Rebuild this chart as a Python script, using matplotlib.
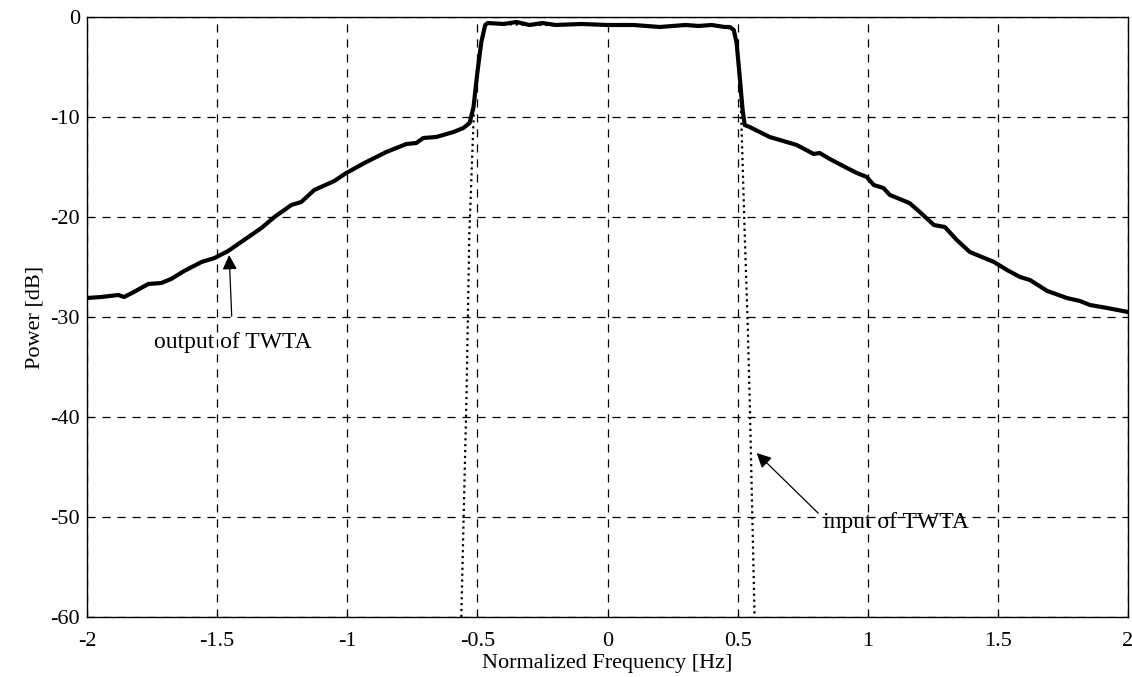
import matplotlib
matplotlib.use("Agg")
import matplotlib.pyplot as plt

# spectrum at the output of the TWTA (solid line)
out_freq = [-2.0, -1.946, -1.88, -1.858, -1.82, -1.765, -1.715, -1.677, -1.627,
            -1.56, -1.51, -1.458, -1.408, -1.33, -1.28, -1.215, -1.177, -1.127,
            -1.05, -1.004, -0.927, -0.85, -0.773, -0.735, -0.708, -0.658, -0.592,
            -0.554, -0.53, -0.515, -0.5, -0.485, -0.47, -0.46, -0.4, -0.35, -0.3,
            -0.25, -0.2, -0.1, 0.0, 0.1, 0.15, 0.2, 0.3, 0.35, 0.4, 0.45, 0.47,
            0.485, 0.496, 0.508, 0.519, 0.527, 0.546, 0.623, 0.688, 0.727, 0.792,
            0.815, 0.854, 0.92, 0.958, 0.996, 1.023, 1.06, 1.085, 1.16, 1.2, 1.254,
            1.296, 1.342, 1.392, 1.485, 1.535, 1.585, 1.623, 1.69, 1.765, 1.815,
            1.854, 1.92, 2.0]
out_power = [-28.1, -28.0, -27.8, -28.0, -27.5, -26.7, -26.6, -26.2, -25.4,
             -24.5, -24.1, -23.4, -22.5, -21.1, -20.0, -18.8, -18.5, -17.3,
             -16.4, -15.6, -14.5, -13.5, -12.7, -12.6, -12.1, -12.0, -11.5,
             -11.1, -10.6, -9.0, -5.5, -2.5, -0.8, -0.6, -0.7, -0.5, -0.8,
             -0.6, -0.8, -0.7, -0.8, -0.8, -0.9, -1.0, -0.8, -0.9, -0.8, -1.0, -1.0,
             -1.3, -2.6, -6.0, -9.3, -10.8, -11.0, -12.0, -12.5, -12.8, -13.7,
             -13.6, -14.2, -15.1, -15.6, -16.0, -16.8, -17.1, -17.8, -18.6, -19.5, -20.8,
             -21.0, -22.3, -23.5, -24.5, -25.3, -26.0, -26.3, -27.4, -28.1, -28.4,
             -28.8, -29.1, -29.5]

# spectrum at the input of the TWTA (dotted line)
in_freq = [-0.562, -0.542, -0.531, -0.512, -0.5, -0.485, -0.47, -0.46, -0.4,
           -0.3, -0.2, -0.1, 0.0, 0.1, 0.2, 0.3, 0.4, 0.45, 0.485, 0.496,
           0.508, 0.515, 0.527, 0.538, 0.546, 0.565]
in_power = [-60.0, -38.0, -21.6, -8.3, -5.5, -2.5, -0.8, -0.6, -0.7,
            -0.8, -0.8, -0.7, -0.8, -0.8, -1.0, -0.8, -0.8, -1.0, -1.3, -2.6,
            -6.0, -11.1, -21.6, -30.3, -38.0, -60.0]

x_ticks = [-2, -1.5, -1, -0.5, 0, 0.5, 1, 1.5, 2]
x_tick_labels = ['-2', '-1.5', '-1', '-0.5', '0', '0.5', '1', '1.5', '2']
y_ticks = [-60, -50, -40, -30, -20, -10, 0]

plt.rcParams['font.family'] = ['Liberation Serif', 'DejaVu Serif']
plt.rcParams['axes.unicode_minus'] = False

fig = plt.figure(figsize=(11.32, 6.77), dpi=100)
ax = fig.add_axes([0.0769, 0.0886, 0.9196, 0.8863])

ax.plot(in_freq, in_power, color='black', linestyle=':', linewidth=1.6)
ax.plot(out_freq, out_power, color='black', linewidth=3.0)

ax.set_xlim(-2, 2)
ax.set_ylim(-60, 0)
ax.set_xticks(x_ticks)
ax.set_xticklabels(x_tick_labels)
ax.set_yticks(y_ticks)
ax.grid(True, color='black', linestyle=(0, (6.5, 5.5)), linewidth=0.9)
ax.tick_params(direction='in', length=4, labelsize=16, width=0.8)
ax.tick_params(axis='x', pad=11)
ax.tick_params(axis='y', pad=5)
for s in ax.spines.values():
    s.set_linewidth(1.0)

ax.set_xlabel('Normalized Frequency [Hz]', fontsize=16, labelpad=2)
ax.set_ylabel('Power [dB]', fontsize=16, labelpad=4)

# arrows with labels
ax.annotate('output of TWTA', xy=(-1.454, -23.8), xytext=(-1.44, -32.5),
            fontsize=17, ha='center', va='center',
            arrowprops=dict(arrowstyle='-|>', color='black', lw=0.9,
                            mutation_scale=22, shrinkA=9, shrinkB=0))
ax.annotate('input of TWTA', xy=(0.573, -43.6), xytext=(1.108, -50.5),
            fontsize=17, ha='center', va='center',
            arrowprops=dict(arrowstyle='-|>', color='black', lw=0.9,
                            mutation_scale=22, shrinkA=2, shrinkB=0,
                            relpos=(0.0, 0.7)))

plt.savefig('out.png', dpi=100)
